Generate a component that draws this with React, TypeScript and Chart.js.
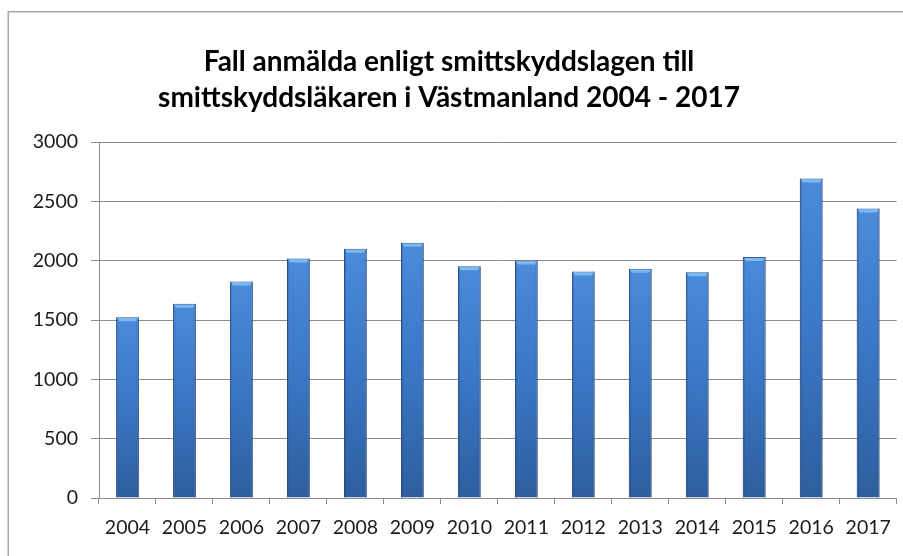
import React, { useEffect, useRef } from "react";
import { Chart, registerables } from "chart.js";

Chart.register(...registerables);

const titleLines = [
  "Fall anmälda enligt smittskyddslagen till",
  "smittskyddsläkaren i Västmanland 2004 - 2017",
];
const years = ["2004", "2005", "2006", "2007", "2008", "2009", "2010", "2011", "2012", "2013", "2014", "2015", "2016", "2017"];
const cases = [1524, 1636, 1824, 2018, 2100, 2151, 1954, 2001, 1909, 1931, 1903, 2030, 2693, 2440];
const yMin = 0;
const yMax = 3000;
const yStep = 500;

const framePlugin = {
  id: "frame",
  beforeDraw(chart: any) {
    const c = chart.ctx;
    c.save();
    c.fillStyle = "#ffffff";
    c.fillRect(0, 0, chart.width, chart.height);
    c.strokeStyle = "#a6a6a6";
    c.lineWidth = 1.5;
    c.beginPath();
    c.moveTo(8.25, chart.height + 2);
    c.lineTo(8.25, 11.75);
    c.lineTo(chart.width + 2, 11.75);
    c.stroke();
    c.restore();
  },
};

const bevelPlugin = {
  id: "bevel",
  afterDatasetsDraw(chart: any) {
    const c = chart.ctx;
    const meta = chart.getDatasetMeta(0);
    c.save();
    meta.data.forEach((bar: any) => {
      const left = bar.x - bar.width / 2;
      const w = bar.width;
      const top = bar.y;
      const h = bar.base - bar.y;
      if (![left, w, top, h].every(Number.isFinite)) return;
      const g = c.createLinearGradient(left, 0, left + w, 0);
      g.addColorStop(0, "rgba(20,45,90,0.35)");
      g.addColorStop(0.12, "rgba(20,45,90,0)");
      g.addColorStop(0.88, "rgba(20,45,90,0)");
      g.addColorStop(1, "rgba(20,45,90,0.35)");
      c.fillStyle = g;
      c.fillRect(left, top, w, h);
      c.fillStyle = "rgba(140,200,250,0.75)";
      c.beginPath();
      c.moveTo(left + 1, top + 1);
      c.lineTo(left + w - 1, top + 1);
      c.lineTo(left + w - 3, top + 4);
      c.lineTo(left + 3, top + 4);
      c.closePath();
      c.fill();
    });
    c.restore();
  },
};

export default function App() {
  const ref = useRef<HTMLCanvasElement | null>(null);

  useEffect(() => {
    if (!ref.current) return;
    const chart = new Chart(ref.current, {
      type: "bar",
      data: {
        labels: years,
        datasets: [
          {
            data: cases,
            backgroundColor: (ctx: any) => {
              const chart = ctx.chart;
              const ys = chart.scales && chart.scales.y;
              if (!ys || ctx.raw == null || !chart.chartArea) return "#3b78c6";
              const t = ys.getPixelForValue(ctx.raw);
              const b = ys.getPixelForValue(0);
              if (!Number.isFinite(t) || !Number.isFinite(b) || t === b) return "#3b78c6";
              const g = chart.ctx.createLinearGradient(0, t, 0, b);
              g.addColorStop(0, "#4a8bdb");
              g.addColorStop(0.5, "#3a76c4");
              g.addColorStop(1, "#2e5e9e");
              return g;
            },
            borderColor: "#2f5c98",
            borderWidth: 1,
            barPercentage: 0.4,
            categoryPercentage: 1,
          },
        ],
      },
      options: {
        responsive: false,
        animation: false,
        layout: { padding: { left: 0, right: 5, top: 0, bottom: 0 } },
        plugins: {
          legend: { display: false },
          tooltip: { enabled: false },
          title: {
            display: true,
            text: titleLines,
            color: "#000000",
            font: { family: "Lato", size: 28, weight: "bold", lineHeight: 36 / 28 },
            padding: { top: 44, bottom: 26 },
          },
        },
        scales: {
          x: {
            grid: {
              offset: true,
              drawOnChartArea: false,
              drawTicks: true,
              tickLength: 6,
              color: "#8c8c8c",
            },
            border: { display: true, color: "#8c8c8c", width: 1 },
            ticks: {
              color: "#1a1a1a",
              font: { family: "Lato", size: 19.5 },
              padding: 12,
              maxRotation: 0,
              autoSkip: false,
            },
            afterFit: (s: any) => {
              s.height = 58;
            },
          },
          y: {
            min: yMin,
            max: yMax,
            grid: {
              color: "#8c8c8c",
              tickLength: 8,
              lineWidth: 1,
            },
            border: { display: true, color: "#8c8c8c", width: 1 },
            ticks: {
              stepSize: yStep,
              color: "#1a1a1a",
              font: { family: "Lato", size: 19.5 },
              padding: 13,
              callback: (v: any) => String(v),
            },
            afterFit: (s: any) => {
              s.width = 99;
            },
          },
        },
      },
      plugins: [framePlugin, bevelPlugin],
    });
    return () => chart.destroy();
  }, []);

  return (
    <div style={{ position: "absolute", left: 0, top: 0, width: 903, height: 556 }}>
      <canvas ref={ref} width={903} height={556} style={{ display: "block", width: 903, height: 556 }} />
    </div>
  );
}
